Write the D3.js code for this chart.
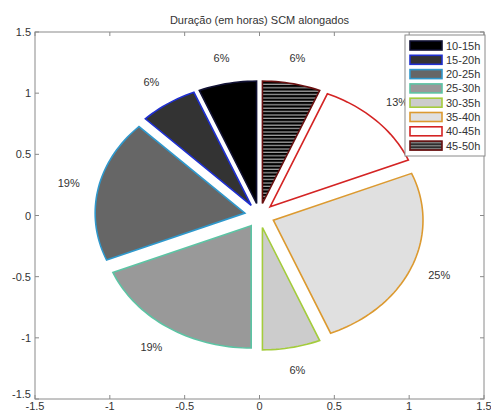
<!DOCTYPE html>
<html>
<head>
<meta charset="utf-8">
<script src="https://cdn.jsdelivr.net/npm/d3@7"></script>
<style>
  body { margin: 0; background: #fff; }
  text { font-family: "Liberation Sans", Arial, sans-serif; fill: #333; }
</style>
</head>
<body>
<svg id="chart"></svg>
<script>
// counts per duration class (n = 16)
const categories = ["10-15h", "15-20h", "20-25h", "25-30h", "30-35h", "35-40h", "40-45h", "45-50h"];
const counts = [1, 1, 3, 3, 1, 4, 2, 1];
const fills = ["#000000", "#333333", "#666666", "#999999", "#cccccc", "#e0e0e0", "#ffffff", "url(#hatch)"];
const edges = ["#111133", "#1f2fd0", "#2f98cc", "#5cc4a4", "#a4cc3c", "#dc9a30", "#d42424", "#6a1010"];
const ticks = [-1.5, -1, -0.5, 0, 0.5, 1, 1.5];
const title = "Duração (em horas) SCM alongados";

const W = 491, H = 415;
const margin = {top: 32, right: 7, bottom: 16, left: 35};

const svg = d3.select("#chart").attr("width", W).attr("height", H);

const defs = svg.append("defs");
const pat = defs.append("pattern")
    .attr("id", "hatch")
    .attr("patternUnits", "userSpaceOnUse")
    .attr("width", 6).attr("height", 3.4);
pat.append("rect").attr("width", 6).attr("height", 3.4).attr("fill", "#000");
pat.append("rect").attr("y", 2.2).attr("width", 6).attr("height", 1.1).attr("fill", "#b8b8b8");

const pat2 = defs.append("pattern")
    .attr("id", "hatchLeg")
    .attr("patternUnits", "userSpaceOnUse")
    .attr("width", 6).attr("height", 3)
    .attr("y", 0.5);
pat2.append("rect").attr("width", 6).attr("height", 3).attr("fill", "#999");
pat2.append("rect").attr("y", 0).attr("width", 6).attr("height", 1.4).attr("fill", "#000");

const x = d3.scaleLinear().domain([-1.5, 1.5]).range([margin.left, W - margin.right]);
const y = d3.scaleLinear().domain([-1.5, 1.5]).range([H - margin.bottom, margin.top]);

// pie slices, matlab style: start at top, go counter-clockwise, explode 0.1
const pie = d3.pie().sort(null).value(d => d);
const arcs = pie(counts);
const total = d3.sum(counts);
const explode = 0.1;

const plot = svg.append("g");

arcs.forEach((a, i) => {
    let t0 = Math.PI / 2 + a.startAngle;
    let t1 = Math.PI / 2 + a.endAngle;
    let mid = (t0 + t1) / 2;
    let ox = explode * Math.cos(mid), oy = explode * Math.sin(mid);
    let pts = [[ox, oy]];
    let n = Math.max(8, Math.round((t1 - t0) / 0.03));
    for (let k = 0; k <= n; k++) {
        let t = t0 + (t1 - t0) * k / n;
        pts.push([ox + Math.cos(t), oy + Math.sin(t)]);
    }
    let line = d3.line().x(d => x(d[0])).y(d => y(d[1]));
    plot.append("path")
        .attr("d", line(pts) + "Z")
        .attr("fill", fills[i])
        .attr("stroke", edges[i])
        .attr("stroke-width", 1.6)
        .attr("stroke-linejoin", "miter");

    let pct = Math.round(100 * a.data / total) + "%";
    plot.append("text")
        .attr("x", x(ox + 1.2 * Math.cos(mid)))
        .attr("y", y(oy + 1.2 * Math.sin(mid)))
        .attr("text-anchor", "middle")
        .attr("dominant-baseline", "middle")
        .attr("font-size", 11)
        .text(pct);
});

// axes box
const axisColor = "#8a8a8a";
svg.append("rect")
    .attr("x", x(-1.5)).attr("y", y(1.5))
    .attr("width", x(1.5) - x(-1.5)).attr("height", y(-1.5) - y(1.5))
    .attr("fill", "none").attr("stroke", axisColor).attr("stroke-width", 1);

const tl = 4;
ticks.forEach(v => {
    // bottom / top
    svg.append("line").attr("x1", x(v)).attr("x2", x(v)).attr("y1", y(-1.5)).attr("y2", y(-1.5) - tl).attr("stroke", axisColor);
    svg.append("line").attr("x1", x(v)).attr("x2", x(v)).attr("y1", y(1.5)).attr("y2", y(1.5) + tl).attr("stroke", axisColor);
    // left / right
    svg.append("line").attr("x1", x(-1.5)).attr("x2", x(-1.5) + tl).attr("y1", y(v)).attr("y2", y(v)).attr("stroke", axisColor);
    svg.append("line").attr("x1", x(1.5)).attr("x2", x(1.5) - tl).attr("y1", y(v)).attr("y2", y(v)).attr("stroke", axisColor);

    svg.append("text")
        .attr("x", x(v)).attr("y", y(-1.5) + 11)
        .attr("text-anchor", "middle")
        .attr("font-size", 11)
        .text(v);
    svg.append("text")
        .attr("x", x(-1.5) - 4).attr("y", v == -1.5 ? y(v) - 1 : y(v) + 4)
        .attr("text-anchor", "end")
        .attr("font-size", 11)
        .text(v);
});

svg.append("text")
    .attr("x", x(0)).attr("y", 24)
    .attr("text-anchor", "middle")
    .attr("font-size", 11)
    .text(title);

// legend
const lg = svg.append("g").attr("transform", "translate(405,35)");
lg.append("rect")
    .attr("width", 80).attr("height", 121)
    .attr("fill", "#fff").attr("stroke", axisColor);
categories.forEach((c, i) => {
    let yy = 6 + i * 14.3;
    lg.append("rect")
        .attr("x", 5).attr("y", yy)
        .attr("width", 32).attr("height", 9)
        .attr("fill", i == 7 ? "url(#hatchLeg)" : fills[i])
        .attr("stroke", edges[i]).attr("stroke-width", 1.6);
    lg.append("text")
        .attr("x", 41).attr("y", yy + 8.5)
        .attr("font-size", 11)
        .text(c);
});
</script>
</body>
</html>
